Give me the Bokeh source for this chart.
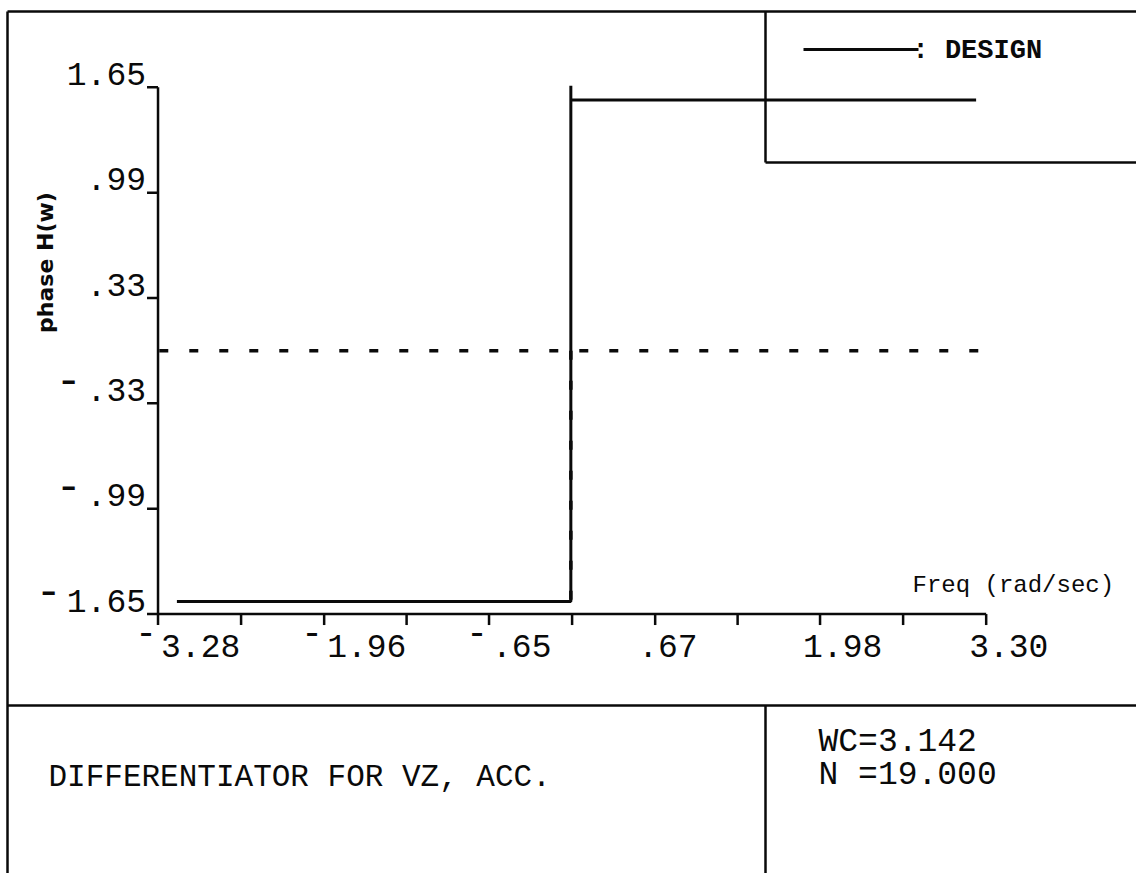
from bokeh.plotting import figure
from bokeh.models import Range1d, ColumnDataSource
from bokeh.core.properties import value
from bokeh.embed import file_html
from bokeh.resources import INLINE
import math

# ---- data -------------------------------------------------------------
# designed phase response H(w), frequency in rad/sec
design_freq = [-3.13, 0.0, 0.0, 0.0, 3.22]
design_phase = [-1.5708, -1.5708, 1.66, 1.5708, 1.5708]

# dashed reference trace: zero line and the drop at w = 0
ref_freq = [[-3.27, 3.39], [0.0, 0.0]]
ref_phase = [[0.0, 0.0], [0.0, -1.65]]

# axis ticks and their printed labels
x_ticks = [-3.28, -1.96, -0.65, 0.67, 1.98, 3.30]
x_tick_labels = ["-3.28", "-1.96", "-.65", ".67", "1.98", "3.30"]
y_ticks = [1.65, 0.99, 0.33, -0.33, -0.99, -1.65]
y_tick_labels = ["1.65", ".99", ".33", "-.33", "-.99", "-1.65"]

title_text = "DIFFERENTIATOR FOR VZ, ACC."
param_lines = ["WC=3.142", "N =19.000"]
legend_text = ": DESIGN"
x_label = "Freq (rad/sec)"
y_label = "phase H(w)"

# ---- page geometry ----------------------------------------------------
W, H = 1136, 873
PX_PER_X = 125.86          # pixels per rad/sec
PX_PER_Y = 159.6           # pixels per rad of phase
X_REF_PX, X_REF_VAL = 571.6, 0.01
Y_ZERO_PX = 350.2
LABEL_SIZE = 33
CELL = 0.6 * LABEL_SIZE    # advance of one monospaced character
HYPHEN_H = 0.33            # height of the hyphen bar above the baseline, in em


def fx(px):
    return X_REF_VAL + (px - X_REF_PX) / PX_PER_X


def fy(py):
    return (Y_ZERO_PX - py) / PX_PER_Y


def lift(size):
    # moves a text up so that its baseline sits on the anchor
    return -0.34 * size


p = figure(width=W, height=H, output_backend="svg", toolbar_location=None,
           x_range=Range1d(fx(0), fx(W)), y_range=Range1d(fy(H), fy(0)),
           x_axis_type=None, y_axis_type=None, min_border=0)
p.outline_line_color = None
p.grid.visible = False
p.background_fill_color = "white"
p.border_fill_color = "white"

INK = "#0a0a0a"
MONO = value("Liberation Mono")
LABEL_FS = value(f"{LABEL_SIZE}px")

# page frame: outer border, legend box, caption dividers
frame_x = [[fx(7), fx(7)], [fx(7), fx(W)], [fx(765), fx(765)], [fx(765), fx(W)],
           [fx(7), fx(W)], [fx(765), fx(765)]]
frame_y = [[fy(11), fy(H)], [fy(11), fy(11)], [fy(11), fy(162)], [fy(162), fy(162)],
           [fy(705), fy(705)], [fy(705), fy(H)]]
p.multi_line(xs=frame_x, ys=frame_y, line_color=INK, line_width=2.5)

# ---- axes drawn at the data origin corner -----------------------------
x0, x1 = x_ticks[0], x_ticks[-1]
y0, y1 = y_ticks[-1], y_ticks[0]
tick_len = 11.0
p.line(x=[x0, x1], y=[y0, y0], line_color=INK, line_width=2.5)
p.line(x=[x0, x0], y=[y0, y1], line_color=INK, line_width=2.5)

x_minor = [(a + b) / 2 for a, b in zip(x_ticks[:-1], x_ticks[1:])]
x_all = x_ticks + x_minor
p.segment(x0=x_all, y0=[y0] * len(x_all), x1=x_all,
          y1=[y0 - tick_len / PX_PER_Y] * len(x_all), line_color=INK, line_width=2.5)
p.segment(x0=[x0] * len(y_ticks), y0=y_ticks, x1=[x0 - tick_len / PX_PER_X] * len(y_ticks),
          y1=y_ticks, line_color=INK, line_width=2.5)

# tick labels: digits in a monospaced face, the minus sign raised to cap height
x_neg = [s.startswith("-") for s in x_tick_labels]
x_digits = [s.lstrip("-") for s in x_tick_labels]
xl = ColumnDataSource(dict(x=x_ticks, y=[y0] * len(x_ticks), text=x_digits,
                           dx=[3 if n else -17 for n in x_neg]))
p.text(x="x", y="y", text="text", source=xl, text_font=MONO, text_font_size=LABEL_FS,
       text_align="left", text_baseline="alphabetic", x_offset="dx",
       y_offset=43 + lift(LABEL_SIZE), text_color=INK)

XM_SIZE = 36
xm = ColumnDataSource(dict(x=[v for v, n in zip(x_ticks, x_neg) if n],
                           y=[y0] * sum(x_neg), text=["-"] * sum(x_neg)))
p.text(x="x", y="y", text="text", source=xm, text_font=MONO,
       text_font_size=value(f"{XM_SIZE}px"), text_align="center",
       text_baseline="alphabetic", x_offset=-12,
       y_offset=18 + HYPHEN_H * XM_SIZE + lift(XM_SIZE), text_color=INK)

y_neg = [s.startswith("-") for s in y_tick_labels]
y_digits = [s.lstrip("-") for s in y_tick_labels]
p.text(x=[x0] * len(y_ticks), y=y_ticks, text=y_digits, text_font=MONO,
       text_font_size=LABEL_FS, text_align="right", text_baseline="alphabetic",
       x_offset=-12, y_offset=-2 + lift(LABEL_SIZE), text_color=INK)

YM_SIZE = 44
ym = ColumnDataSource(dict(
    x=[x0] * sum(y_neg),
    y=[v for v, n in zip(y_ticks, y_neg) if n],
    text=["-"] * sum(y_neg),
    dx=[-12 - len(d) * CELL - 18 for d, n in zip(y_digits, y_neg) if n]))
p.text(x="x", y="y", text="text", source=ym, text_font=MONO,
       text_font_size=value(f"{YM_SIZE}px"), text_align="center",
       text_baseline="alphabetic", x_offset="dx",
       y_offset=-23 + HYPHEN_H * YM_SIZE + lift(YM_SIZE), text_color=INK)

p.text(x=[fx(912)], y=[fy(593)], text=[x_label], text_font=MONO,
       text_font_size=value("24px"), text_align="left", text_baseline="alphabetic",
       y_offset=lift(24), text_color=INK)
p.text(x=[fx(45)], y=[fy(262)], text=[y_label], text_font=value("DejaVu Sans"),
       text_font_style="bold", text_font_size=value("22px"), angle=math.pi / 2,
       text_align="center", text_baseline="alphabetic", text_color=INK)

# ---- traces -----------------------------------------------------------
p.line(x=design_freq, y=design_phase, line_color=INK, line_width=3)
p.multi_line(xs=ref_freq, ys=ref_phase, line_color=INK, line_width=3.5,
             line_dash="9 21", line_cap="butt")

# legend entry
p.line(x=[fx(803), fx(918)], y=[fy(49), fy(49)], line_color=INK, line_width=3)
p.text(x=[fx(912)], y=[fy(60)], text=[legend_text], text_font=MONO,
       text_font_style="bold", text_font_size=value("27px"), text_align="left",
       text_baseline="alphabetic", y_offset=lift(27), text_color=INK)

# caption block
p.text(x=[fx(48)], y=[fy(788)], text=[title_text], text_font=MONO,
       text_font_size=value("31px"), text_align="left", text_baseline="alphabetic",
       y_offset=lift(31), text_color=INK)
p.text(x=[fx(818), fx(818)], y=[fy(753), fy(786)], text=param_lines, text_font=MONO,
       text_font_size=value("33px"), text_align="left", text_baseline="alphabetic",
       y_offset=lift(33), text_color=INK)

open("out.html", "w").write(file_html(p, INLINE))
